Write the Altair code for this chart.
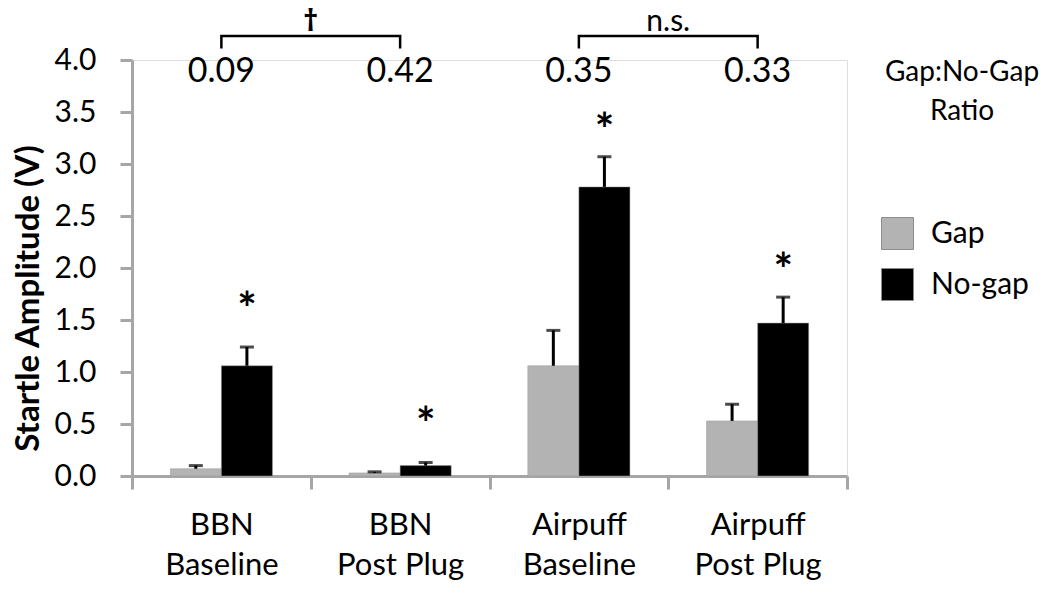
import altair as alt
import pandas as pd

groups = ["BBN Baseline", "BBN Post Plug", "Airpuff Baseline", "Airpuff Post Plug"]
series = ["Gap", "No-gap"]
gap_mean = [0.07, 0.03, 1.06, 0.53]
gap_sem = [0.03, 0.01, 0.34, 0.16]
nogap_mean = [1.06, 0.10, 2.78, 1.47]
nogap_sem = [0.18, 0.03, 0.29, 0.25]
star_y = [1.68, 0.58, 3.40, 2.06]
ratios = ["0.09", "0.42", "0.35", "0.33"]
ratio_y = 3.88
bracket_sets = ["b1", "b1", "b1", "b1", "b2", "b2", "b2", "b2"]
bracket_groups = ["BBN Baseline", "BBN Baseline", "BBN Post Plug", "BBN Post Plug",
                  "Airpuff Baseline", "Airpuff Baseline", "Airpuff Post Plug", "Airpuff Post Plug"]
bracket_y = [4.11, 4.23, 4.23, 4.11, 4.11, 4.23, 4.23, 4.11]
sig_labels = ["†", "n.s."]
sig_groups = ["BBN Post Plug", "Airpuff Post Plug"]
sig_y = [4.365, 4.28]

FONT = "Lato"

rows = []
for i, g in enumerate(groups):
    rows.append({"group": g, "series": "Gap", "mean": gap_mean[i], "sem": gap_sem[i]})
    rows.append({"group": g, "series": "No-gap", "mean": nogap_mean[i], "sem": nogap_sem[i]})
df = pd.DataFrame(rows)
df["top"] = df["mean"] + df["sem"]

stars = pd.DataFrame({"group": groups, "series": ["No-gap"] * 4, "y": star_y, "t": ["*"] * 4})
ratio_df = pd.DataFrame({"group": groups, "t": ratios, "y": [ratio_y] * 4})
br_df = pd.DataFrame({"set": bracket_sets, "group": bracket_groups, "y": bracket_y,
                      "ord": list(range(len(bracket_sets)))})
dag_df = pd.DataFrame({"group": [sig_groups[0]], "t": [sig_labels[0]], "y": [sig_y[0]]})
ns_df = pd.DataFrame({"group": [sig_groups[1]], "t": [sig_labels[1]], "y": [sig_y[1]]})

xscale = alt.Scale(domain=groups, paddingInner=0, paddingOuter=0)
yscale = alt.Scale(domain=[0, 4])
xoff = alt.XOffset("series:N", scale=alt.Scale(domain=series, paddingOuter=0.75, paddingInner=0))

AX = "#a6a6a6"
x_axis = alt.Axis(
    title=None, labelAngle=0, tickBand="extent", labelFontSize=31, labelFont=FONT,
    labelColor="black", labelPadding=21, labelLineHeight=40, tickSize=13, tickWidth=3,
    tickColor=AX, domainColor=AX, domainWidth=3,
    labelExpr="[slice(datum.label, 0, indexof(datum.label, ' ')), slice(datum.label, indexof(datum.label, ' ') + 1)]",
)
y_axis = alt.Axis(
    title="Startle Amplitude (V)", values=[0, 0.5, 1, 1.5, 2, 2.5, 3, 3.5, 4], format=".1f",
    labelFontSize=30, labelFont=FONT, labelColor="black", labelPadding=24, tickSize=12,
    tickWidth=3, tickColor=AX, domainColor=AX, domainWidth=3, grid=False,
    titleFont=FONT, titleFontSize=33, titleFontWeight="bold", titleColor="black",
    titlePadding=9, titleY=238,
)

base = alt.Chart(df)
bars = base.mark_bar(stroke="#9a9a9a", strokeWidth=0.5).encode(
    x=alt.X("group:N", scale=xscale, axis=x_axis),
    xOffset=xoff,
    y=alt.Y("mean:Q", scale=yscale, axis=y_axis),
    color=alt.Color(
        "series:N",
        scale=alt.Scale(domain=series, range=["#b3b3b3", "#000000"]),
        legend=alt.Legend(
            title=None, orient="none", legendX=749, legendY=157, symbolType="square",
            symbolSize=1024, symbolStrokeColor="#8c8c8c", symbolStrokeWidth=1,
            labelFontSize=30, labelFont=FONT, labelColor="black", labelOffset=17,
            rowPadding=14, padding=0,
        ),
    ),
)
err = base.mark_rule(color="black", strokeWidth=3).encode(
    x=alt.X("group:N", scale=xscale), xOffset=xoff,
    y=alt.Y("mean:Q", scale=yscale), y2="top:Q",
)
caps = base.mark_tick(orient="horizontal", color="black", size=14, thickness=3).encode(
    x=alt.X("group:N", scale=xscale), xOffset=xoff,
    y=alt.Y("top:Q", scale=yscale),
)
star_layer = alt.Chart(stars).mark_text(
    fontSize=46, font=FONT, fontWeight="bold", color="black", baseline="middle", dy=10
).encode(
    x=alt.X("group:N", scale=xscale), xOffset=xoff,
    y=alt.Y("y:Q", scale=yscale), text="t:N",
)
ratio_layer = alt.Chart(ratio_df).mark_text(fontSize=34, font=FONT, color="black", baseline="middle").encode(
    x=alt.X("group:N", scale=xscale), y=alt.Y("y:Q", scale=yscale), text="t:N",
)
bracket_layer = alt.Chart(br_df).mark_line(color="black", strokeWidth=2.5).encode(
    x=alt.X("group:N", scale=xscale), y=alt.Y("y:Q", scale=yscale),
    detail="set:N", order="ord:Q",
)
dag_layer = alt.Chart(dag_df).mark_text(fontSize=30, font="Noto Sans", fontWeight="bold", color="black", baseline="middle").encode(
    x=alt.X("group:N", scale=xscale, bandPosition=0), y=alt.Y("y:Q", scale=yscale), text="t:N",
)
ns_layer = alt.Chart(ns_df).mark_text(fontSize=30, font=FONT, color="black", baseline="alphabetic").encode(
    x=alt.X("group:N", scale=xscale, bandPosition=0), y=alt.Y("y:Q", scale=yscale), text="t:N",
)
note1 = alt.Chart(pd.DataFrame({"t": ["Gap:No-Gap"]})).mark_text(
    fontSize=28, font=FONT, color="black", baseline="middle"
).encode(x=alt.value(830), y=alt.value(13), text="t:N")
note2 = alt.Chart(pd.DataFrame({"t": ["Ratio"]})).mark_text(
    fontSize=28, font=FONT, color="black", baseline="middle"
).encode(x=alt.value(830), y=alt.value(52), text="t:N")

chart = alt.layer(
    bars, err, caps, star_layer, ratio_layer, bracket_layer, dag_layer, ns_layer, note1, note2
).properties(
    width=715, height=416,
    autosize=alt.AutoSizeParams(type="none"),
    padding={"left": 124, "top": 52, "right": 195, "bottom": 106},
).configure_view(stroke=None).configure(background="white")

chart.save("out.html", embed_options={"renderer": "svg", "actions": False})
